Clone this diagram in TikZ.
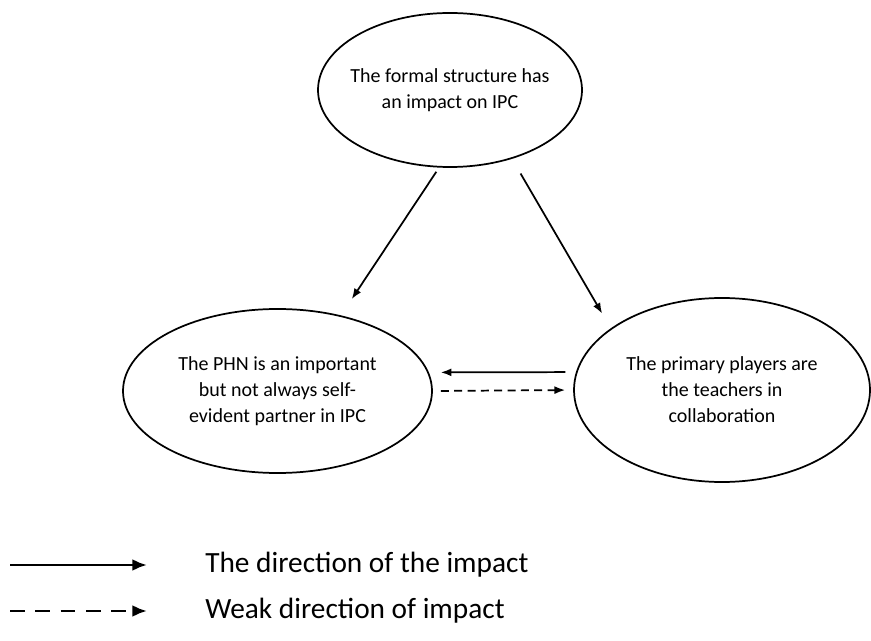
\documentclass[tikz,border=0pt]{standalone}
\usepackage{fontspec}
\setmainfont{Carlito}
\usetikzlibrary{arrows.meta}
\usetikzlibrary{shapes.geometric}
\usetikzlibrary{calc}
\usetikzlibrary{positioning}

\tikzset{
    theme/.style={ellipse, draw, line width=1.3pt, inner ysep=0pt, inner xsep=-6pt,
        align=center, font=\fontsize{15}{19.5}\selectfont},
    impact/.style={-{Latex[length=8pt,width=6pt]}, line width=1.3pt},
    weak/.style={impact, dash pattern=on 6pt off 4pt},
    keyimpact/.style={-{Latex[length=11pt,width=9pt]}, line width=2.2pt},
    keyweak/.style={keyimpact, dash pattern=on 11pt off 8pt},
    keytext/.style={anchor=west, inner sep=0pt, font=\fontsize{22}{26}\selectfont}
}

\begin{document}
\begin{tikzpicture}[x=0.75pt,y=-0.75pt]
    \useasboundingbox (0,0) rectangle (871,641);

    \coordinate (top) at (450,90);
    \coordinate (left) at (277.5,391);
    \coordinate (right) at (722,390);

    \coordinate (keysolid) at (10,565);
    \coordinate (keydashed) at (10,611);

    % the three themes
    \node[theme, minimum width=198pt, minimum height=115.5pt] (formal) at (top)
        {The formal structure has\\an impact on IPC};
    \node[theme, minimum width=231.75pt, minimum height=123pt] (phn) at (left)
        {The PHN is an important\\but not always self-\\evident partner in IPC};
    \node[theme, minimum width=222pt, minimum height=138pt] (teachers) at (right)
        {The primary players are\\the teachers in\\collaboration};

    \draw[impact, shorten <=3.75pt, shorten >=14.6pt] (formal.262) -- (phn.50);
    \draw[impact, shorten <=12.75pt, shorten >=12.75pt] (formal.312) -- (teachers.151);
    \draw[impact, shorten <=7.9pt, shorten >=8.9pt] (teachers.173) -- (phn.7);
    \draw[weak, shorten <=6pt, shorten >=6pt] (phn.east) -- (teachers.west);

    % legend
    \coordinate (keysolidend) at ($(keysolid)+(137,0)$);
    \coordinate (keydashedend) at ($(keydashed)+(137,0)$);
    \draw[keyimpact] (keysolid) -- (keysolidend);
    \draw[keyweak] (keydashed) -- (keydashedend);
    \node[keytext] (solidtext) at (205,565) {The direction of the impact};
    \node[keytext] (dashedtext) at (205,611) {Weak direction of impact};

\end{tikzpicture}
\end{document}
